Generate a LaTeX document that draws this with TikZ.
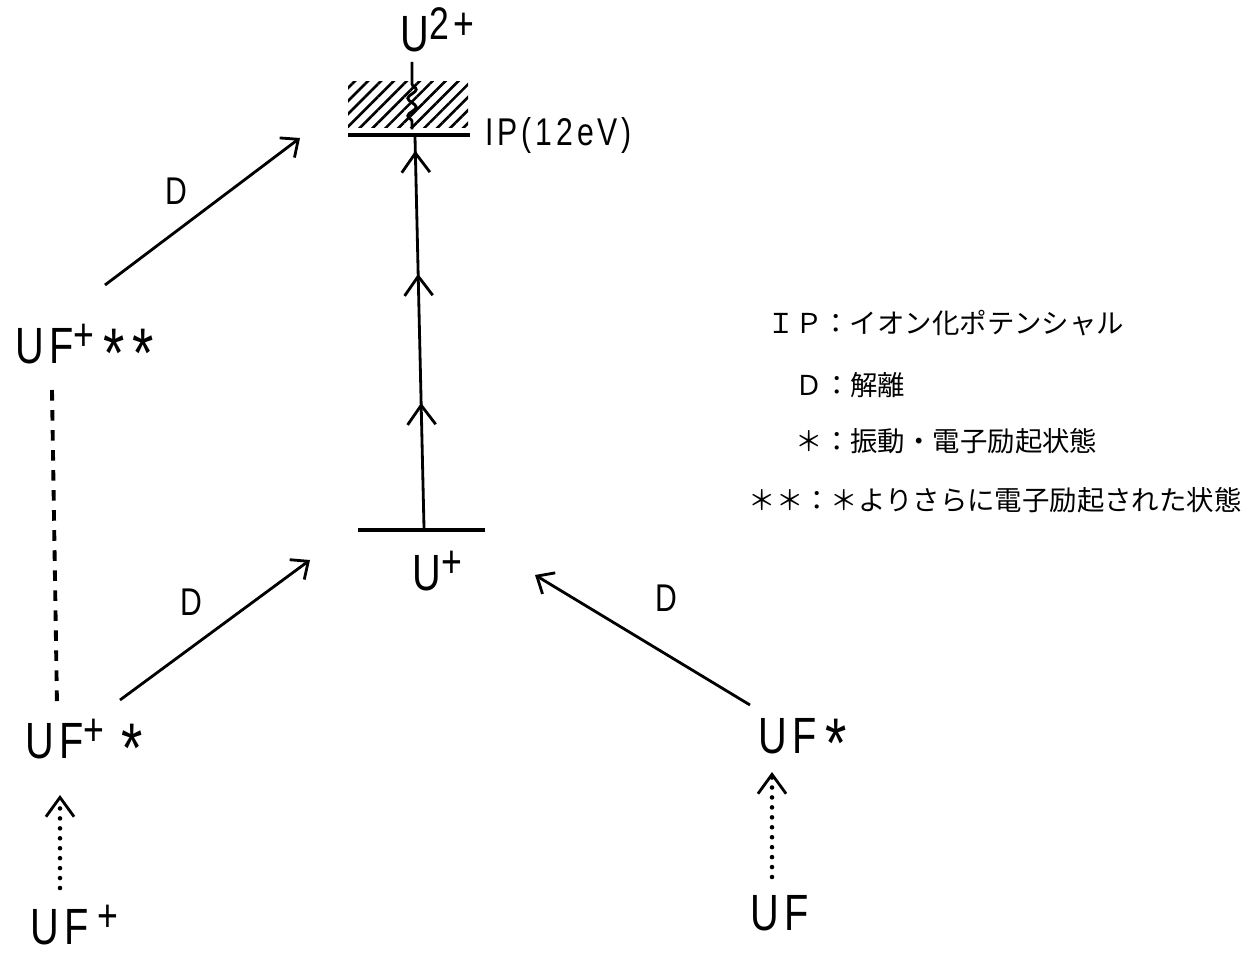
\documentclass[tikz,border=0pt]{standalone}
\usepackage{fontspec}
\newfontfamily\plotfont[FakeStretch=0.78,LetterSpace=10]{Liberation Sans}
\newfontfamily\jpfont{Noto Sans CJK JP}
\newcommand\hoch[1]{\raisebox{3.6pt}{\fontsize{13}{14}\selectfont #1}}
\newcommand\stjerne{\raisebox{-4pt}{\fontsize{20}{21}\selectfont *}}
\usetikzlibrary{arrows,positioning,arrows.meta,decorations.markings,decorations.pathmorphing,patterns.meta}
\tikzset{
    %Define standard arrow tip
    >={Straight Barb[length=4pt,width=7pt,line width=0.8pt]},
    %Define chevron tip for the level arrows
    chev/.tip={Straight Barb[length=5.5pt,width=8pt,line width=0.8pt]},
    %Define style for labels
    tekst/.style={
           font=\plotfont\fontsize{14.5}{16}\selectfont,
           inner sep=0pt,
           anchor=base west},
    dtekst/.style={
           font=\plotfont\fontsize{11}{13}\selectfont,
           inner sep=0pt},
    forklaring/.style={
           font=\jpfont\fontsize{7.8}{9}\selectfont,
           inner sep=0pt,
           anchor=west},
    %Define style for levels
    niveau/.style={
           line width=1.2pt},
    baand/.style={
           minimum width=1.2cm,
           minimum height=0.46cm,
           inner sep=0pt,
           pattern={Lines[angle=45,distance=2.6pt,line width=0.75pt]}},
    % Define arrow styles
    pil/.style={
           ->,
           line width=0.8pt},
    prikpil/.style={
           -chev,
           line width=1.3pt,
           line cap=round,
           dash pattern=on 0pt off 2.83pt},
    streg/.style={
           line width=1.1pt,
           dash pattern=on 3pt off 2.7pt},
    ionpil/.style={
           line width=0.8pt,
           postaction={decorate},
           decoration={markings,
              mark=at position 0.32 with {\arrow{chev}},
              mark=at position 0.65 with {\arrow{chev}},
              mark=at position 0.965 with {\arrow{chev}}}}
}
\begin{document}
\begin{tikzpicture}
 \useasboundingbox (0,0) rectangle (12.54,-9.53);
 \node[tekst] (u2) at (4.00,-0.52) {U\hoch{2+}};
 \node[baand] (band) at (4.08,-1.05) {};
 \coordinate (wtop) at (4.12,-0.62);
 \coordinate (ipL) at (3.48,-1.35);
 \coordinate (ipR) at (4.70,-1.35);
 \coordinate (ipM) at (4.15,-1.37);
 \coordinate (upL) at (3.58,-5.30);
 \coordinate (upR) at (4.85,-5.30);
 \coordinate (upM) at (4.24,-5.28);
 \node[dtekst, anchor=west] (iplbl) at ([xshift=0.15cm]ipR) {IP(12eV)};
 \node[tekst] (uplus) at (4.12,-5.90) {U\hoch{+}};
 \node[tekst] (ufpp) at (0.15,-3.63) {UF\hoch{+}\,\stjerne\,\stjerne};
 \node[tekst] (ufps) at (0.25,-7.58) {UF\hoch{+}\,\,\stjerne};
 \node[tekst] (ufp) at (0.30,-9.44) {UF\,\hoch{+}};
 \node[tekst] (ufs) at (7.58,-7.53) {UF\,\stjerne};
 \node[tekst] (uf) at (7.50,-9.30) {UF};
 \node[dtekst] (d1) at (1.76,-1.91) {D};
 \node[dtekst] (d2) at (1.91,-6.02) {D};
 \node[dtekst] (d3) at (6.66,-5.98) {D};
 \node[forklaring] (leg1) at (7.67,-3.23) {ＩＰ：イオン化ポテンシャル};
 \node[forklaring] (leg2) at (7.95,-3.85) {Ｄ：解離};
 \node[forklaring] (leg3) at (7.95,-4.41) {＊：振動・電子励起状態};
 \node[forklaring] (leg4) at (7.48,-5.00) {＊＊：＊よりさらに電子励起された状態};
 \draw[niveau] (ipL) -- (ipR);
 \draw[niveau] (upL) -- (upR);
 \draw[line width=0.8pt] (wtop) -- ++(0,-0.22) decorate[decoration={snake,amplitude=1.2pt,segment length=5pt}] {-- (band.south -| wtop)};
 \draw[ionpil] (upM) -- (ipM);
 \draw[pil] ([shift={(0.90,0.78)}]ufpp.base west) -- ([shift={(-0.48,-0.03)}]ipL);
 \draw[pil] ([shift={(0.95,0.58)}]ufps.base west) -- ([shift={(-0.48,-0.30)}]upL);
 \draw[pil] ([shift={(-0.08,0.48)}]ufs.base west) -- ([shift={(0.50,-0.45)}]upR);
 \draw[streg] ([shift={(0.37,-0.27)}]ufpp.base west) -- ([shift={(0.32,0.53)}]ufps.base west);
 \draw[prikpil] ([shift={(0.30,0.56)}]ufp.base west) -- ([shift={(0.35,-0.37)}]ufps.base west);
 \draw[prikpil] ([shift={(0.22,0.53)}]uf.base west) -- ([shift={(0.14,-0.19)}]ufs.base west);
\end{tikzpicture}
\end{document}
